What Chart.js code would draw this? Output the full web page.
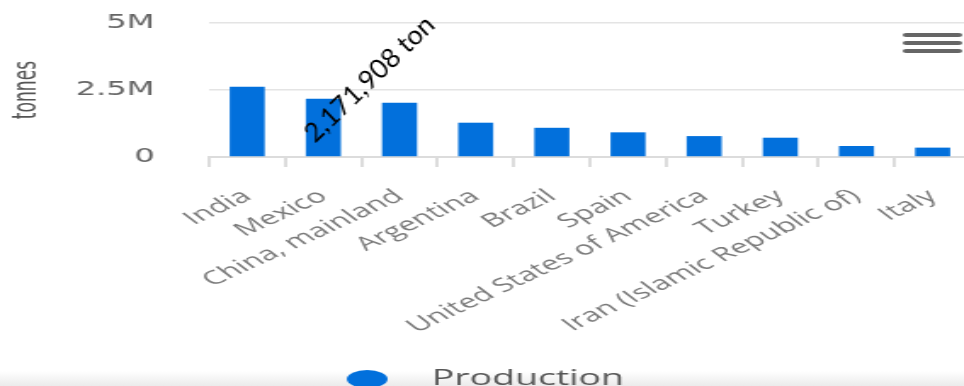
<!DOCTYPE html>
<html lang="en">
<head>
<meta charset="UTF-8">
<title>Production by country</title>
<script src="https://cdn.jsdelivr.net/npm/chart.js"></script>
<style>
  html, body { margin: 0; padding: 0; }
  body {
    width: 964px; height: 386px; overflow: hidden;
    background: linear-gradient(to bottom, #fff 0, #fff 371px, #ebebeb 386px);
  }
  /* the reference is a horizontally stretched screenshot; the plot runs just past its right edge */
  .stretch { width: 571px; height: 386px; transform: scaleX(1.7); transform-origin: 0 0; }
</style>
</head>
<body>
<div class="stretch"><canvas id="chart"></canvas></div>
<script>
const STRETCH = 1.7;
const BOTTOM_PAD = -14;

const countries = ['India', 'Mexico', 'China, mainland', 'Argentina', 'Brazil', 'Spain',
  'United States of America', 'Turkey', 'Iran (Islamic Republic of)', 'Italy'];
const production = [2620000, 2171908, 2020000, 1280000, 1090000, 920000, 780000, 720000, 410000, 350000];
const yTicks = [0, 2500000, 5000000];
const yTickLabels = ['0', '2.5M', '5M'];
const seriesName = 'Production';
const unitLabel = 'tonnes';
const calloutIndex = 1;

// legend marker: ellipse on the left, blank room on the right as a gap before the text
const marker = document.createElement('canvas');
marker.width = 39;
marker.height = 18;
(() => {
  const c = marker.getContext('2d');
  c.fillStyle = '#0270dc';
  c.beginPath();
  c.ellipse(12, 9, 12, 9, 0, 0, Math.PI * 2);
  c.fill();
})();

// hamburger menu in the top right corner
const menuIcon = {
  id: 'menuIcon',
  afterDraw(chart) {
    const ctx = chart.ctx;
    ctx.save();
    ctx.strokeStyle = '#666';
    ctx.lineWidth = 4;
    ctx.lineCap = 'round';
    [35, 43, 51].forEach(y => {
      ctx.beginPath();
      ctx.moveTo(533, y);
      ctx.lineTo(564, y);
      ctx.stroke();
    });
    ctx.restore();
  }
};

// rotated value note over the Mexico bar (drawn unstretched)
const callout = {
  id: 'callout',
  afterDatasetsDraw(chart) {
    const x = chart.scales.x.getPixelForValue(calloutIndex) - 5;
    const y = chart.scales.y.getPixelForValue(0) - 13;
    const ctx = chart.ctx;
    ctx.save();
    ctx.translate(x, y);
    ctx.scale(1 / STRETCH, 1);
    ctx.rotate(-44 * Math.PI / 180);
    ctx.fillStyle = '#000';
    ctx.font = '27px Lato';
    ctx.textAlign = 'left';
    ctx.textBaseline = 'alphabetic';
    ctx.fillText(production[calloutIndex].toLocaleString('en-US') + ' ton', 0, 0);
    ctx.restore();
  }
};

new Chart(document.getElementById('chart'), {
  type: 'bar',
  data: {
    labels: countries,
    datasets: [{
      label: seriesName,
      data: production,
      backgroundColor: '#0270dc',
      borderWidth: 0,
      pointStyle: marker,
      barPercentage: 0.46,
      categoryPercentage: 1
    }]
  },
  options: {
    responsive: true,
    maintainAspectRatio: false,
    animation: false,
    layout: { padding: { top: 23, right: 0, left: 0, bottom: BOTTOM_PAD } },
    plugins: {
      legend: {
        position: 'bottom',
        labels: {
          usePointStyle: true,
          pointStyleWidth: 39,
          boxHeight: 18,
          padding: 3,
          color: '#555',
          font: { family: 'Open Sans', size: 22 }
        }
      },
      tooltip: { enabled: false }
    },
    scales: {
      x: {
        grid: { offset: true, drawOnChartArea: false, drawTicks: true, tickLength: 10, color: '#dcdcdc', lineWidth: 2 },
        border: { color: '#dcdcdc', width: 2 },
        ticks: {
          autoSkip: false, minRotation: 38, maxRotation: 38, padding: 18,
          color: '#7a7a7a', font: { family: 'Open Sans', size: 19 }
        },
        afterFit(scale) {
          const legendH = scale.chart.legend ? scale.chart.legend.height : 0;
          scale.height = scale.chart.height - 157 - legendH - BOTTOM_PAD;
          scale.paddingLeft = 0;
          scale.paddingRight = 0;
        }
      },
      y: {
        min: 0,
        max: 5000000,
        afterBuildTicks(scale) { scale.ticks = yTicks.map(v => ({ value: v })); },
        ticks: {
          callback: v => yTickLabels[yTicks.indexOf(v)],
          color: '#666', font: { family: 'DejaVu Sans', size: 19 }, padding: 32
        },
        grid: { drawTicks: false, color: '#e4e4e4', lineWidth: 1.5 },
        border: { display: false },
        title: {
          display: true, text: unitLabel, color: '#555',
          font: { family: "'DejaVu Sans Condensed', 'Liberation Sans', sans-serif", size: 19 },
          padding: { top: 5, bottom: 0 }
        },
        afterFit(scale) {
          scale.width = 123;
          scale.paddingTop = 0;
          scale.paddingBottom = 0;
        }
      }
    }
  },
  plugins: [menuIcon, callout]
});
</script>
</body>
</html>
